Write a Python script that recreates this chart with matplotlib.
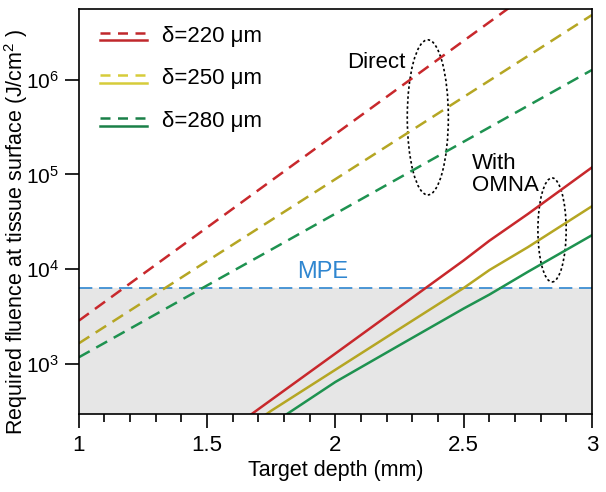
import matplotlib
matplotlib.use("Agg")
import matplotlib.pyplot as plt
from matplotlib.patches import Ellipse
from matplotlib.ticker import FixedLocator

plt.rcParams['font.family'] = ['Liberation Sans', 'DejaVu Sans']
plt.rcParams['mathtext.fontset'] = 'custom'
plt.rcParams['mathtext.rm'] = 'Liberation Sans'
plt.rcParams['mathtext.it'] = 'Liberation Sans'

# depth (mm)
depth = [1.0, 1.25, 1.5, 1.75, 2.0, 2.25, 2.5, 2.75, 3.0]
# direct illumination, fluence (J/cm^2)
direct_220 = [2860, 8890, 27600, 85900, 267000, 830000, 2.58e6, 8.0e6, 2.49e7]
direct_250 = [1650, 4480, 12200, 33000, 89300, 242000, 658000, 1.78e6, 4.83e6]
direct_280 = [1175, 2810, 6740, 16100, 38600, 92500, 222000, 531000, 1.27e6]

# with OMNA
depth_omna = [1.65, 1.75, 2.0, 2.25, 2.5, 2.6, 2.75, 3.0]
omna_220 = [266, 418, 1290, 4000, 12400, 20000, 38300, 119000]
omna_250 = [205, 321, 869, 2350, 6340, 9800, 17100, 46300]
omna_280 = [170, 230, 646, 1580, 3850, 5400, 9390, 22900]

mpe = 6300
labels = ["δ=220 μm", "δ=250 μm", "δ=280 μm"]
xticks = [1, 1.5, 2, 2.5, 3]
xtick_labels = ['1', '1.5', '2', '2.5', '3']
yticks = [1e3, 1e4, 1e5, 1e6]
ytick_labels = [r'$10^{3}$', r'$10^{4}$', r'$10^{5}$', r'$10^{6}$']
colors = ['#c8282c', '#b5a623', '#1e9250']
legend_colors = ['#c0282c', '#d6cc3a', '#1a8048']

fig = plt.figure(figsize=(6.06, 4.92), dpi=100)
ax = fig.add_axes([0.130, 0.159, 0.847, 0.823])

ymin, ymax = 298, 5.6e6
ax.axhspan(ymin, mpe, color='#e6e6e6', zorder=0)
ax.axhline(mpe, color='#2f86d0', lw=1.2, dashes=(8, 4), zorder=1)
ax.text(1.95, 9300, "MPE", color='#2f86d0', fontsize=17, ha='center', va='center')

for d, c in zip([direct_220, direct_250, direct_280], colors):
    ax.plot(depth, d, color=c, lw=1.8, dashes=(5, 3))
for d, c in zip([omna_220, omna_250, omna_280], colors):
    ax.plot(depth_omna, d, color=c, lw=1.8)

ax.set_yscale('log')
ax.set_xlim(1, 3)
ax.set_ylim(ymin, ymax)
ax.yaxis.set_major_locator(FixedLocator(yticks))
ax.yaxis.set_minor_locator(FixedLocator([]))
ax.set_yticklabels(ytick_labels)
ax.xaxis.set_major_locator(FixedLocator(xticks))
ax.xaxis.set_minor_locator(FixedLocator([1.1, 1.2, 1.3, 1.4, 1.6, 1.7, 1.8, 1.9,
                                         2.1, 2.2, 2.3, 2.4, 2.6, 2.7, 2.8, 2.9]))
ax.set_xticklabels(xtick_labels)
ax.tick_params(axis='both', which='major', direction='out', length=10, width=1.2,
               labelsize=16, pad=5)
ax.tick_params(axis='y', which='major', labelsize=15, pad=4)
ax.tick_params(axis='x', which='minor', direction='out', length=6, width=1.2)
for s in ax.spines.values():
    s.set_linewidth(1.2)

ax.set_xlabel("Target depth (mm)", fontsize=15.5, labelpad=3)
ax.set_ylabel("Required fluence at tissue surface (J/cm$^{2}$ )", fontsize=15.5)
ax.yaxis.set_label_coords(-0.096, 0.45)

# legend drawn by hand: dashed over solid
rows = [(0.941, 0.924), (0.837, 0.817), (0.731, 0.711)]
for (yd, ys), c, lab in zip(rows, legend_colors, labels):
    ax.plot([0.041, 0.133], [yd, yd], transform=ax.transAxes, color=c, lw=1.8, dashes=(4, 3))
    ax.plot([0.041, 0.133], [ys, ys], transform=ax.transAxes, color=c, lw=1.8)
    ax.text(0.162, (yd + ys) / 2, lab, transform=ax.transAxes, fontsize=16, va='center')

# annotations
ax.add_patch(Ellipse((0.680, 0.732), 0.080, 0.383, transform=ax.transAxes,
                     fill=False, ls=(0, (1.5, 1.5)), lw=1.2, color='black'))
ax.add_patch(Ellipse((0.922, 0.454), 0.055, 0.257, transform=ax.transAxes,
                     fill=False, ls=(0, (1.5, 1.5)), lw=1.2, color='black'))
ax.text(0.522, 0.867, "Direct", transform=ax.transAxes, fontsize=16, va='center')
ax.text(0.766, 0.59, "With\nOMNA", transform=ax.transAxes, fontsize=16, va='center',
        linespacing=1.05)

fig.savefig("out.png", dpi=100)
